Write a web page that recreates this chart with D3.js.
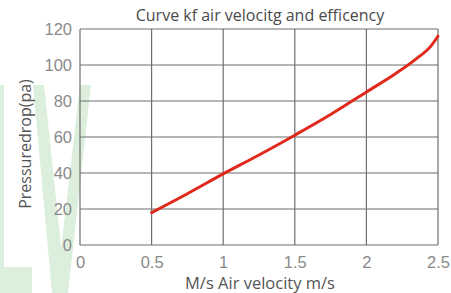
<!DOCTYPE html>
<html>
<head>
<meta charset="utf-8">
<script src="https://cdn.jsdelivr.net/npm/d3@7"></script>
<style>
  body { margin: 0; background: #fff; }
  svg { display: block; }
</style>
</head>
<body>
<div id="chart"></div>
<script>
// data
var velocity = [0.5, 0.75, 1.0, 1.25, 1.5, 1.75, 2.0, 2.2, 2.35, 2.45, 2.5];
var pressure = [18, 28.5, 39.5, 50, 61, 72.5, 85, 95, 103.5, 110.5, 116];
var xTicks = [0, 0.5, 1, 1.5, 2, 2.5];
var yTicks = [0, 20, 40, 60, 80, 100, 120];

var svgWidth = 451, svgHeight = 293;
var margin = { top: 29, left: 80, right: 13, bottom: 48 };
var width = svgWidth - margin.left - margin.right;
var height = svgHeight - margin.top - margin.bottom;

var svg = d3.select("#chart").append("svg")
  .attr("width", svgWidth)
  .attr("height", svgHeight);

// faint green watermark behind everything
var wm = svg.append("g").attr("fill", "#d6edd6").attr("opacity", 0.85);
wm.append("path").attr("d", "M0,85 L4,85 L4,267 L32,267 L32,293 L0,293 Z");
wm.append("path").attr("d", "M33,85 L44,85 L66,293 L52,293 Z");
wm.append("path").attr("d", "M80,85 L91,85 L68,293 L56,293 Z");

var chartGroup = svg.append("g")
  .attr("transform", `translate(${margin.left}, ${margin.top})`);

var xScale = d3.scaleLinear().domain([0, 2.5]).range([0, width]);
var yScale = d3.scaleLinear().domain([0, 120]).range([height, 0]);

// grid
chartGroup.append("g")
  .selectAll("line")
  .data(xTicks)
  .enter()
  .append("line")
  .attr("x1", d => xScale(d)).attr("x2", d => xScale(d))
  .attr("y1", 0).attr("y2", height)
  .attr("stroke", "#6e6e6e").attr("stroke-width", 1.2);

chartGroup.append("g")
  .selectAll("line")
  .data(yTicks)
  .enter()
  .append("line")
  .attr("x1", 0).attr("x2", width)
  .attr("y1", d => yScale(d)).attr("y2", d => yScale(d))
  .attr("stroke", "#6e6e6e").attr("stroke-width", 1.2);

// axes (labels only)
var xAxis = d3.axisBottom(xScale).tickValues(xTicks).tickSize(0).tickPadding(11)
  .tickFormat(d3.format("~g"));
var yAxis = d3.axisLeft(yScale).tickValues(yTicks).tickSize(0).tickPadding(8);

var gx = chartGroup.append("g")
  .attr("transform", `translate(0, ${height})`)
  .call(xAxis);
var gy = chartGroup.append("g").call(yAxis);

[gx, gy].forEach(function(g) {
  g.select(".domain").remove();
  g.selectAll("text")
    .attr("fill", "#8a8a8a")
    .style("font-family", "Liberation Sans, Arial, sans-serif")
    .style("font-size", "16.5px");
});

// curve
var line = d3.line()
  .x((d, i) => xScale(velocity[i]))
  .y(d => yScale(d))
  .curve(d3.curveMonotoneX);

chartGroup.append("path")
  .datum(pressure)
  .attr("d", line)
  .attr("fill", "none")
  .attr("stroke", "#e0291c")
  .attr("stroke-width", 3)
  .attr("stroke-linecap", "round");

// title
svg.append("text")
  .attr("x", margin.left + width / 2 + 1)
  .attr("y", 21)
  .style("text-anchor", "middle")
  .style("font-family", "Open Sans, sans-serif")
  .style("font-size", "16px")
  .attr("fill", "#4a4a4a")
  .text("Curve kf air velocitg and efficency");

// x label
svg.append("text")
  .attr("x", margin.left + width / 2 + 1)
  .attr("y", 289)
  .style("text-anchor", "middle")
  .style("font-family", "Open Sans, sans-serif")
  .style("font-size", "16.5px")
  .attr("fill", "#555")
  .text("M/s Air velocity m/s");

// y label
svg.append("text")
  .attr("transform", "rotate(-90)")
  .attr("x", -144)
  .attr("y", 31)
  .style("text-anchor", "middle")
  .style("font-family", "Open Sans, sans-serif")
  .style("font-size", "16px")
  .attr("fill", "#555")
  .text("Pressuredrop(pa)");
</script>
</body>
</html>
